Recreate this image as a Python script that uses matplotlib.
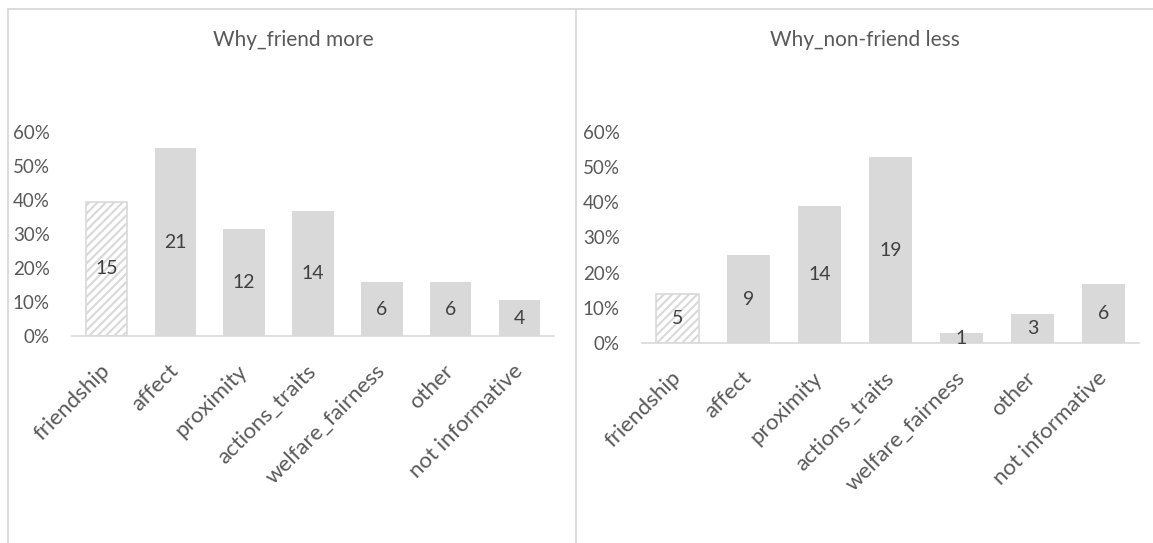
import matplotlib
matplotlib.use("Agg")
import matplotlib.pyplot as plt
import matplotlib.transforms as mtransforms
from matplotlib.lines import Line2D

plt.rcParams['font.family'] = ['Lato', 'DejaVu Sans']
plt.rcParams['hatch.color'] = '#CFCFCF'
plt.rcParams['hatch.linewidth'] = 1.5

# data
categories = ["friendship", "affect", "proximity", "actions_traits",
              "welfare_fairness", "other", "not informative"]
friend_counts = [15, 21, 12, 14, 6, 6, 4]
friend_n = 38
nonfriend_counts = [5, 9, 14, 19, 1, 3, 6]
nonfriend_n = 36
titles = ["Why_friend more", "Why_non-friend less"]
yticks = [0, 0.1, 0.2, 0.3, 0.4, 0.5, 0.6]

W, H = 1153, 543
fig = plt.figure(figsize=(W / 100, H / 100), dpi=100)

text_col = '#595959'
grey = '#D9D9D9'


def px_axes(x0, x1, ybase, ytop):
    return fig.add_axes([x0 / W, (H - ybase) / H, (x1 - x0) / W, (ybase - ytop) / H])


def draw_panel(ax, counts, n):
    vals = [c / n for c in counts]
    x = list(range(len(categories)))
    for i, v in enumerate(vals):
        if i == 0:
            ax.bar(i, v, width=0.6, facecolor='white', edgecolor=grey,
                   hatch='////', linewidth=1.2)
        else:
            ax.bar(i, v, width=0.6, color=grey)
        ax.text(i, v / 2, str(counts[i]), ha='center', va='center',
                fontsize=14, color='#404040')
    ax.set_xlim(-0.5, len(categories) - 0.5)
    ax.set_ylim(0, 0.6)
    ax.set_yticks(yticks)
    ax.set_yticklabels([f"{int(round(t * 100))}%" for t in yticks])
    ax.set_xticks(x)
    ax.set_xticklabels(categories, rotation=45, ha='right', va='center',
                       rotation_mode='anchor')
    # nudge the rotated labels a little to the right, like Excel does
    shift = mtransforms.ScaledTranslation(4 / 100, 0, fig.dpi_scale_trans)
    for lab in ax.get_xticklabels():
        lab.set_transform(lab.get_transform() + shift)
    for s in ['top', 'right', 'left']:
        ax.spines[s].set_visible(False)
    ax.spines['bottom'].set_color(grey)
    ax.spines['bottom'].set_linewidth(1.2)
    ax.tick_params(axis='y', length=0, labelsize=13.5, colors=text_col, pad=16)
    ax.tick_params(axis='x', length=0, labelsize=16, colors=text_col, pad=23)


ax1 = px_axes(72, 554, 336, 132)
draw_panel(ax1, friend_counts, friend_n)
ax2 = px_axes(642, 1139, 343, 132)
draw_panel(ax2, nonfriend_counts, nonfriend_n)

# titles
fig.text(293 / W, 1 - 40 / H, titles[0], ha='center', va='center',
         fontsize=15, color=text_col)
fig.text(865 / W, 1 - 40 / H, titles[1], ha='center', va='center',
         fontsize=15, color=text_col)

# panel borders
fig.add_artist(Line2D([8 / W, 1.0], [1 - 9 / H, 1 - 9 / H], color=grey, lw=1.3,
                      transform=fig.transFigure))
fig.add_artist(Line2D([8 / W, 8 / W], [0, 1 - 9 / H], color=grey, lw=1.3,
                      transform=fig.transFigure))
fig.add_artist(Line2D([576 / W, 576 / W], [0, 1 - 9 / H], color=grey, lw=1.3,
                      transform=fig.transFigure))

fig.savefig("out.png", dpi=100, facecolor='white')
